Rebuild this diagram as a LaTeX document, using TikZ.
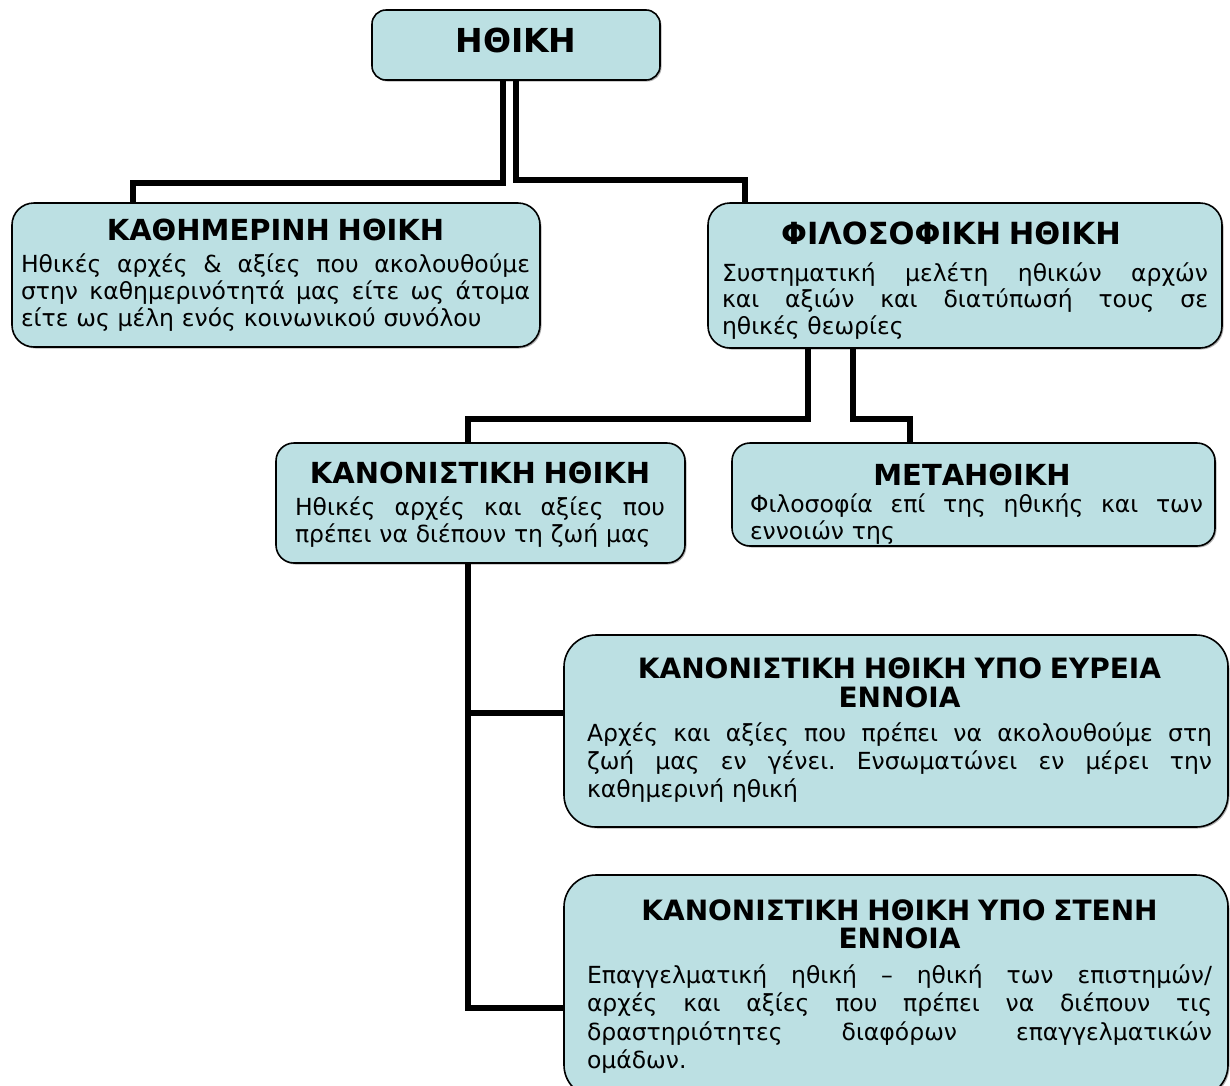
\documentclass[tikz,border=0pt]{standalone}
\usepackage{fontspec}
\setmainfont{DejaVu Sans}
\usetikzlibrary{shadows}
\pgfdeclarelayer{bg}
\pgfsetlayers{bg,main}
\definecolor{boxfill}{RGB}{188,224,227}
\newcommand\ttl{\bfseries\fontsize{29}{30}\selectfont}
\newcommand\sttl{\bfseries\fontsize{28}{30}\selectfont}
\newcommand\jl[1]{\leavevmode\hbox to\hsize{\spaceskip=0.318em plus 1fil\xspaceskip=0.318em plus 1fil\relax #1}}
\newcommand\cl[1]{\leavevmode\hbox to\hsize{\hss #1\hss}}
\begin{document}
\begin{tikzpicture}[x=1pt,y=-1pt,
  box/.style={draw=black, line width=1.6pt, fill=boxfill, inner sep=0pt,
    drop shadow={shadow xshift=1.5pt, shadow yshift=-1.5pt, opacity=0.3, fill=black}},
  txt/.style={inner sep=0pt, anchor=base},
  conn/.style={line width=5.5pt, line join=miter}]
\useasboundingbox (0,0) rectangle (1230,1085);

% boxes
\node[box, rounded corners=14pt, minimum width=288pt, minimum height=70pt] (root) at (516,45) {};
\node[box, rounded corners=22pt, minimum width=528pt, minimum height=144pt] (kath) at (276,275) {};
\node[box, rounded corners=22pt, minimum width=514pt, minimum height=145pt] (phil) at (965,275.5) {};
\node[box, rounded corners=18pt, minimum width=409pt, minimum height=120pt] (kan) at (480.5,503) {};
\node[box, rounded corners=18pt, minimum width=483pt, minimum height=103pt] (met) at (973.5,494.5) {};
\node[box, rounded corners=32pt, minimum width=664pt, minimum height=192pt] (wide) at (896,731) {};
\node[box, rounded corners=32pt, minimum width=664pt, minimum height=222pt] (narrow) at (896,986) {};

% connectors
\begin{pgfonlayer}{bg}
\draw[conn] ([xshift=-13pt]root.south) -- ++(0,102) -| ([xshift=-143pt]kath.north);
\draw[conn] (root.south) -- ++(0,99) -| ([xshift=-220pt]phil.north);
\draw[conn] ([xshift=-157pt]phil.south) -- ++(0,70) -| ([xshift=-12.5pt]kan.north);
\draw[conn] ([xshift=-112pt]phil.south) -- ++(0,70) -| ([xshift=-63.5pt]met.north);
\draw[conn] ([xshift=-12.5pt]kan.south) |- ([yshift=18pt]wide.west);
\draw[conn] ([xshift=-12.5pt]kan.south) |- ([yshift=-22pt]narrow.west);
\end{pgfonlayer}

% texts
\node[txt] (rootT) at (516,52) {\bfseries\fontsize{33}{34}\selectfont ΗΘΙΚΗ};

\node[txt, text width=509pt, font=\fontsize{23.5}{27}\selectfont] (kathT) at (275.5,240) {%
\cl{\ttl ΚΑΘΗΜΕΡΙΝΗ ΗΘΙΚΗ}\\[5pt]
\jl{Ηθικές αρχές \& αξίες που ακολουθούμε}\\
\jl{στην καθημερινότητά μας είτε ως άτομα}\\
είτε ως μέλη ενός κοινωνικού συνόλου};

\node[txt, text width=486pt, font=\fontsize{23.5}{26.5}\selectfont] (philT) at (965,244) {%
\cl{\hspace*{-28pt}\bfseries\fontsize{30.5}{30}\selectfont ΦΙΛΟΣΟΦΙΚΗ ΗΘΙΚΗ}\\[10.5pt]
\jl{Συστηματική μελέτη ηθικών αρχών}\\
\jl{και αξιών και διατύπωσή τους σε}\\
ηθικές θεωρίες};

\node[txt, text width=370pt, font=\fontsize{23.5}{27}\selectfont] (kanT) at (480,483) {%
\cl{\ttl ΚΑΝΟΝΙΣΤΙΚΗ ΗΘΙΚΗ}\\[5pt]
\jl{Ηθικές αρχές και αξίες που}\\
πρέπει να διέπουν τη ζωή μας};

\node[txt, text width=453pt, font=\fontsize{23.5}{27}\selectfont] (metT) at (976.5,485) {%
\cl{\hspace*{-9pt}\ttl ΜΕΤΑΗΘΙΚΗ}\\
\jl{Φιλοσοφία επί της ηθικής και των}\\
εννοιών της};

\node[txt, text width=625pt, font=\fontsize{23.5}{28}\selectfont] (wideT) at (899.5,678) {%
\cl{\sttl ΚΑΝΟΝΙΣΤΙΚΗ ΗΘΙΚΗ ΥΠΟ ΕΥΡΕΙΑ}\\[1pt]
\cl{\sttl ΕΝΝΟΙΑ}\\[6pt]
\jl{Αρχές και αξίες που πρέπει να ακολουθούμε στη}\\
\jl{ζωή μας εν γένει. Ενσωματώνει εν μέρει την}\\
καθημερινή ηθική};

\node[txt, text width=625pt, font=\fontsize{23.5}{28.5}\selectfont] (narrowT) at (899.5,920) {%
\cl{\sttl ΚΑΝΟΝΙΣΤΙΚΗ ΗΘΙΚΗ ΥΠΟ ΣΤΕΝΗ}\\[-0.5pt]
\cl{\sttl ΕΝΝΟΙΑ}\\[6.5pt]
\jl{Επαγγελματική ηθική – ηθική των επιστημών/}\\
\jl{αρχές και αξίες που πρέπει να διέπουν τις}\\
\jl{δραστηριότητες διαφόρων επαγγελματικών}\\
ομάδων.};
\end{tikzpicture}
\end{document}
